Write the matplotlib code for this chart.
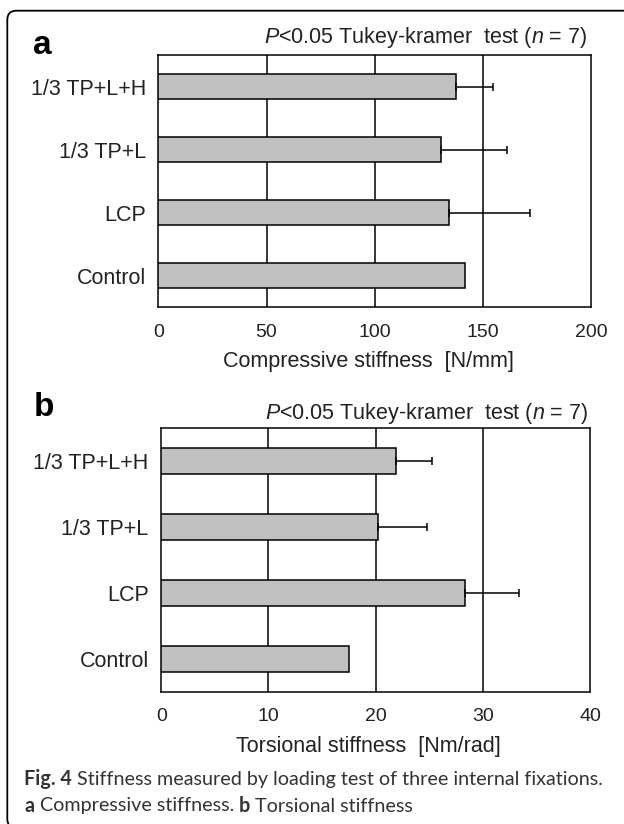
import matplotlib
matplotlib.use("Agg")
import matplotlib.pyplot as plt
from matplotlib.patches import FancyBboxPatch
import numpy as np

# ---- data ----
categories = ["Control", "LCP", "1/3 TP+L", "1/3 TP+L+H"]
compressive_mean = [141.8, 134.5, 130.6, 137.6]
compressive_err = [0.0, 37.5, 30.5, 17.0]
torsional_mean = [17.5, 28.3, 20.2, 21.9]
torsional_err = [0.0, 5.1, 4.6, 3.4]
comp_ticks = [0, 50, 100, 150, 200]
tors_ticks = [0, 10, 20, 30, 40]
title_text = "$P$<0.05 Tukey-kramer  test ($n$ = 7)"
comp_label = "Compressive stiffness  [N/mm]"
tors_label = "Torsional stiffness  [Nm/rad]"

W, H = 624, 824
plt.rcParams['font.family'] = ['Liberation Sans', 'DejaVu Sans']
plt.rcParams['mathtext.fontset'] = 'custom'
plt.rcParams['mathtext.rm'] = 'Liberation Sans'
plt.rcParams['mathtext.it'] = 'Liberation Sans:italic'

fig = plt.figure(figsize=(W / 100, H / 100), dpi=100)

def fx(x):
    return x / W

def fy(y):
    return 1 - y / H

def make_axes(left, right, top, bottom):
    return fig.add_axes([fx(left), fy(bottom), fx(right) - fx(left), (bottom - top) / H])

bar_color = "#c0c0c0"

def draw_panel(ax, means, errs, ticks):
    y = np.arange(len(categories))
    ax.barh(y, means, height=0.39, color=bar_color, edgecolor="black", linewidth=1.1, zorder=3)
    idx = [i for i, e in enumerate(errs) if e > 0]
    ax.errorbar([means[i] for i in idx], [y[i] for i in idx],
                xerr=[[0] * len(idx), [errs[i] for i in idx]],
                fmt="none", ecolor="black", elinewidth=1.1, capsize=2.6, capthick=1.1, zorder=4)
    ax.set_xlim(ticks[0], ticks[-1])
    ax.set_ylim(-0.5, len(categories) - 0.5)
    ax.set_xticks(ticks)
    ax.set_yticks(y)
    ax.set_yticklabels(categories)
    for t in ticks[1:-1]:
        ax.axvline(t, color="black", linewidth=1.1, zorder=1)
    for s in ax.spines.values():
        s.set_linewidth(1.1)
    ax.tick_params(axis="x", length=0, pad=12, labelsize=14, labelcolor="#222222")
    ax.tick_params(axis="y", length=0, pad=9, labelsize=15.5, labelcolor="#222222")

ax1 = make_axes(158.4, 591.0, 55.0, 307.3)
draw_panel(ax1, compressive_mean, compressive_err, comp_ticks)
ax2 = make_axes(161.2, 590.0, 428.3, 691.7)
draw_panel(ax2, torsional_mean, torsional_err, tors_ticks)

# panel letters
fig.text(fx(33), fy(53.5), "a", fontsize=24, fontweight="bold", ha="left", va="baseline")
fig.text(fx(34), fy(415.5), "b", fontsize=24, fontweight="bold", ha="left", va="baseline")

# titles
fig.text(fx(587), fy(43.3), title_text, fontsize=15.5, ha="right", va="baseline", color="#222222")
fig.text(fx(588), fy(419.3), title_text, fontsize=15.5, ha="right", va="baseline", color="#222222")

# x labels
fig.text(fx(368), fy(367.3), comp_label, fontsize=15.5, ha="center", va="baseline", color="#222222")
fig.text(fx(368), fy(751.7), tors_label, fontsize=15.5, ha="center", va="baseline", color="#222222")

# frame (only left side, top line and bottom-left corner visible)
frame = FancyBboxPatch((7.3, H - 828.0), 700, 828.0 - 10.7,
                       boxstyle="round,pad=0,rounding_size=9", transform=None,
                       facecolor="none", edgecolor="black", linewidth=1.3)
fig.patches.append(frame)

# caption
renderer = fig.canvas.get_renderer()
cap_font = ['Lato', 'DejaVu Sans']

def draw_segments(x0, ybase, segments, size):
    x = x0
    for txt, weight in segments:
        t = fig.text(fx(x), fy(ybase), txt, fontsize=size, fontweight=weight,
                     family=cap_font, ha="left", va="baseline", color="#333333")
        bb = t.get_window_extent(renderer=renderer)
        x += bb.width

draw_segments(24.5, 785, [("Fig. 4", "bold"), (" Stiffness measured by loading test of three internal fixations.", "normal")], 14.2)
draw_segments(24.5, 811.5, [("a", "bold"), (" Compressive stiffness. ", "normal"), ("b", "bold"), (" Torsional stiffness", "normal")], 14.2)

fig.savefig("out.png", dpi=100)
